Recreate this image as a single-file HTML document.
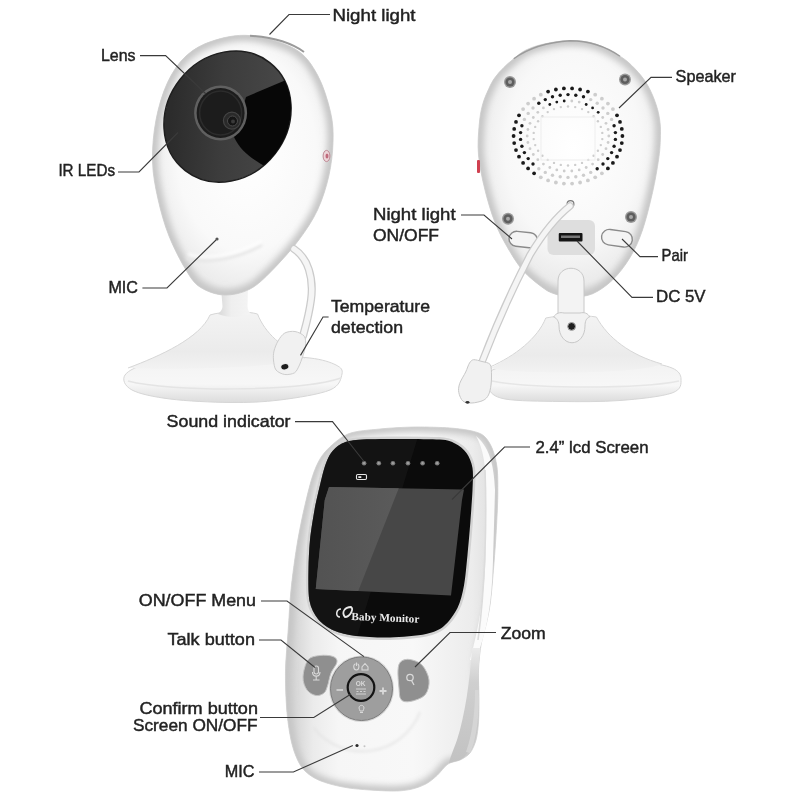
<!DOCTYPE html>
<html><head><meta charset="utf-8"><title>Baby Monitor</title>
<style>
html,body{margin:0;padding:0;background:#fff;width:800px;height:800px;overflow:hidden;}
svg{display:block;will-change:transform;}
.lb{font-family:"Liberation Sans",sans-serif;font-size:17px;fill:#222;stroke:#222;stroke-width:0.45px;}
.ln{fill:none;stroke:#3a3a3a;stroke-width:1.1;}
</style></head><body>
<svg width="800" height="800" viewBox="0 0 800 800">

<defs>
 <filter id="fb3" x="-20%" y="-20%" width="140%" height="140%"><feGaussianBlur stdDeviation="3"/></filter>
 <filter id="fb2" x="-20%" y="-20%" width="140%" height="140%"><feGaussianBlur stdDeviation="1.6"/></filter>
 <radialGradient id="gBodyL" cx="0.52" cy="0.45" r="0.62">
  <stop offset="0" stop-color="#ffffff"/>
  <stop offset="0.62" stop-color="#f9f9f9"/>
  <stop offset="0.85" stop-color="#ececec"/>
  <stop offset="1" stop-color="#cfcfcf"/>
 </radialGradient>
 <radialGradient id="gBodyR" cx="0.52" cy="0.42" r="0.62">
  <stop offset="0" stop-color="#ffffff"/>
  <stop offset="0.6" stop-color="#f8f8f8"/>
  <stop offset="0.85" stop-color="#ebebeb"/>
  <stop offset="1" stop-color="#cdcdcd"/>
 </radialGradient>
 <linearGradient id="gBase" x1="0" y1="0" x2="0" y2="1">
  <stop offset="0" stop-color="#f3f3f3"/>
  <stop offset="0.7" stop-color="#ebebeb"/>
  <stop offset="1" stop-color="#f2f2f2"/>
 </linearGradient>
 <linearGradient id="gPlate" x1="0" y1="0" x2="0" y2="1">
  <stop offset="0" stop-color="#f2f2f2"/>
  <stop offset="0.6" stop-color="#f7f7f7"/>
  <stop offset="1" stop-color="#dcdcdc"/>
 </linearGradient>
 <linearGradient id="gFace" x1="0.75" y1="0.1" x2="0.05" y2="0.65">
  <stop offset="0" stop-color="#484848"/>
  <stop offset="0.55" stop-color="#3c3c3c"/>
  <stop offset="1" stop-color="#2c2c2c"/>
 </linearGradient>
 <linearGradient id="gScreen" x1="0" y1="0" x2="1" y2="1">
  <stop offset="0" stop-color="#4a4a4a"/>
  <stop offset="0.35" stop-color="#4f4f4f"/>
  <stop offset="0.36" stop-color="#444"/>
  <stop offset="1" stop-color="#3a3a3a"/>
 </linearGradient>
 <linearGradient id="gMon" x1="0" y1="0" x2="1" y2="0">
  <stop offset="0" stop-color="#cbcbcb"/>
  <stop offset="0.06" stop-color="#dadada"/>
  <stop offset="0.13" stop-color="#ebebeb"/>
  <stop offset="0.25" stop-color="#f6f6f6"/>
  <stop offset="0.6" stop-color="#f8f8f8"/>
  <stop offset="0.88" stop-color="#ececec"/>
  <stop offset="1" stop-color="#dcdcdc"/>
 </linearGradient>
 <linearGradient id="gNeck" x1="0" y1="0" x2="1" y2="0">
  <stop offset="0" stop-color="#d8d8d8"/>
  <stop offset="0.4" stop-color="#efefef"/>
  <stop offset="1" stop-color="#f4f4f4"/>
 </linearGradient>
 <linearGradient id="gClip" x1="0" y1="0" x2="0" y2="1">
  <stop offset="0" stop-color="#ebebeb"/>
  <stop offset="0.3" stop-color="#cfcfcf"/>
  <stop offset="1" stop-color="#c2c2c2"/>
 </linearGradient>
 <linearGradient id="gRefl" x1="0" y1="0" x2="1" y2="0">
  <stop offset="0" stop-color="#515151"/>
  <stop offset="1" stop-color="#5b5b5b"/>
 </linearGradient>
</defs>

<path d="M125.0,375.0 C128.0,370.5 137.5,366.0 150.0,363.0 C162.5,360.0 181.7,358.2 200.0,357.0 C218.3,355.8 241.7,355.8 260.0,356.0 C278.3,356.2 297.3,356.5 310.0,358.0 C322.7,359.5 330.7,362.3 336.0,365.0 C341.3,367.7 343.0,369.8 342.0,374.0 C341.0,378.2 340.3,385.7 330.0,390.0 C319.7,394.3 296.7,397.9 280.0,400.0 C263.3,402.1 248.3,402.7 230.0,402.5 C211.7,402.3 186.3,401.1 170.0,399.0 C153.7,396.9 139.5,394.0 132.0,390.0 C124.5,386.0 122.0,379.5 125.0,375.0 Z" fill="url(#gPlate)" stroke="#d6d6d6" stroke-width="1"/>
<path d="M128,381 C170,392 300,392 341,378" fill="none" stroke="#e4e4e4" stroke-width="1.5"/>
<path d="M210,315 C222,311 248,311 257.5,314 C265,333 282,348 305,358 C280,368 180,370 128,368 C160,356 200,338 210,315 Z" fill="url(#gBase)"/>
<path d="M128,368 C160,356 200,338 210,315 C222,311 248,311 257.5,314 C265,333 282,348 305,358" fill="none" stroke="#d6d6d6" stroke-width="1"/>
<path d="M221,288 L248,288 L247.5,306 C247.5,310 249,312 251,314 C240,318 228,318 218,314 C220,312 222.5,310 222.5,306 Z" fill="url(#gNeck)"/>
<path d="M250.0,35.6 C263.8,36.9 283.8,42.4 295.0,49.0 C306.2,55.6 311.6,64.4 317.5,75.0 C323.4,85.6 328.0,101.2 330.6,112.5 C333.2,123.8 333.3,131.9 333.0,142.5 C332.7,153.1 331.3,164.8 328.8,176.0 C326.2,187.2 322.5,199.3 317.5,210.0 C312.5,220.7 306.2,230.0 298.8,240.0 C291.2,250.0 280.6,261.8 272.5,270.0 C264.4,278.2 258.1,284.8 250.0,289.0 C241.9,293.2 232.3,295.3 224.0,295.0 C215.7,294.7 206.3,291.2 200.0,287.0 C193.7,282.8 191.2,278.5 186.0,270.0 C180.8,261.5 173.7,247.8 169.0,236.0 C164.3,224.2 160.8,211.5 158.0,199.0 C155.2,186.5 152.8,174.2 152.5,161.0 C152.2,147.8 153.5,133.1 156.0,120.0 C158.5,106.9 162.5,93.2 167.5,82.5 C172.5,71.8 178.5,62.9 186.0,56.0 C193.5,49.1 201.8,44.4 212.5,41.0 C223.2,37.6 236.2,34.3 250.0,35.6 Z" fill="url(#gBodyL)"/>
<clipPath id="cBL"><path d="M250.0,35.6 C263.8,36.9 283.8,42.4 295.0,49.0 C306.2,55.6 311.6,64.4 317.5,75.0 C323.4,85.6 328.0,101.2 330.6,112.5 C333.2,123.8 333.3,131.9 333.0,142.5 C332.7,153.1 331.3,164.8 328.8,176.0 C326.2,187.2 322.5,199.3 317.5,210.0 C312.5,220.7 306.2,230.0 298.8,240.0 C291.2,250.0 280.6,261.8 272.5,270.0 C264.4,278.2 258.1,284.8 250.0,289.0 C241.9,293.2 232.3,295.3 224.0,295.0 C215.7,294.7 206.3,291.2 200.0,287.0 C193.7,282.8 191.2,278.5 186.0,270.0 C180.8,261.5 173.7,247.8 169.0,236.0 C164.3,224.2 160.8,211.5 158.0,199.0 C155.2,186.5 152.8,174.2 152.5,161.0 C152.2,147.8 153.5,133.1 156.0,120.0 C158.5,106.9 162.5,93.2 167.5,82.5 C172.5,71.8 178.5,62.9 186.0,56.0 C193.5,49.1 201.8,44.4 212.5,41.0 C223.2,37.6 236.2,34.3 250.0,35.6 Z"/></clipPath>
<g clip-path="url(#cBL)"><path d="M250.0,35.6 C263.8,36.9 283.8,42.4 295.0,49.0 C306.2,55.6 311.6,64.4 317.5,75.0 C323.4,85.6 328.0,101.2 330.6,112.5 C333.2,123.8 333.3,131.9 333.0,142.5 C332.7,153.1 331.3,164.8 328.8,176.0 C326.2,187.2 322.5,199.3 317.5,210.0 C312.5,220.7 306.2,230.0 298.8,240.0 C291.2,250.0 280.6,261.8 272.5,270.0 C264.4,278.2 258.1,284.8 250.0,289.0 C241.9,293.2 232.3,295.3 224.0,295.0 C215.7,294.7 206.3,291.2 200.0,287.0 C193.7,282.8 191.2,278.5 186.0,270.0 C180.8,261.5 173.7,247.8 169.0,236.0 C164.3,224.2 160.8,211.5 158.0,199.0 C155.2,186.5 152.8,174.2 152.5,161.0 C152.2,147.8 153.5,133.1 156.0,120.0 C158.5,106.9 162.5,93.2 167.5,82.5 C172.5,71.8 178.5,62.9 186.0,56.0 C193.5,49.1 201.8,44.4 212.5,41.0 C223.2,37.6 236.2,34.3 250.0,35.6 Z" fill="none" stroke="#c6c6c6" stroke-width="11" filter="url(#fb3)"/></g>
<path d="M250.0,35.6 C263.8,36.9 283.8,42.4 295.0,49.0 C306.2,55.6 311.6,64.4 317.5,75.0 C323.4,85.6 328.0,101.2 330.6,112.5 C333.2,123.8 333.3,131.9 333.0,142.5 C332.7,153.1 331.3,164.8 328.8,176.0 C326.2,187.2 322.5,199.3 317.5,210.0 C312.5,220.7 306.2,230.0 298.8,240.0 C291.2,250.0 280.6,261.8 272.5,270.0 C264.4,278.2 258.1,284.8 250.0,289.0 C241.9,293.2 232.3,295.3 224.0,295.0 C215.7,294.7 206.3,291.2 200.0,287.0 C193.7,282.8 191.2,278.5 186.0,270.0 C180.8,261.5 173.7,247.8 169.0,236.0 C164.3,224.2 160.8,211.5 158.0,199.0 C155.2,186.5 152.8,174.2 152.5,161.0 C152.2,147.8 153.5,133.1 156.0,120.0 C158.5,106.9 162.5,93.2 167.5,82.5 C172.5,71.8 178.5,62.9 186.0,56.0 C193.5,49.1 201.8,44.4 212.5,41.0 C223.2,37.6 236.2,34.3 250.0,35.6 Z" fill="none" stroke="#cdcdcd" stroke-width="0.8"/>
<path d="M250,35.8 C270,37 290,42 304,52" fill="none" stroke="#9a9a9a" stroke-width="2"/>
<ellipse cx="227.5" cy="116.6" rx="60.3" ry="68.6" transform="rotate(38 227.5 116.6)" fill="url(#gFace)" stroke="#1e1e1e" stroke-width="1.5"/>
<clipPath id="cFace"><ellipse cx="227.5" cy="116.6" rx="60.3" ry="68.6" transform="rotate(38 227.5 116.6)"/></clipPath>
<path clip-path="url(#cFace)" d="M300,74 L246,97 L234,137 C240,150 250,158 268,168 L300,170 Z" fill="#070707"/>
<ellipse cx="220.6" cy="113" rx="26.5" ry="27.5" fill="#606060"/>
<ellipse cx="220.6" cy="113" rx="24" ry="25" fill="#1c1c1c"/>
<ellipse cx="220.6" cy="113" rx="21" ry="22" fill="none" stroke="#2c2c2c" stroke-width="1.5"/>
<circle cx="231.9" cy="120.6" r="8.5" fill="#2a2a2a" stroke="#444" stroke-width="1.2"/>
<circle cx="232.5" cy="121" r="5" fill="#151515" stroke="#4a4a4a" stroke-width="1"/>
<circle cx="233" cy="121.5" r="2" fill="#3a3a3a"/>
<ellipse cx="326.5" cy="156" rx="3.4" ry="5.6" fill="#ecd4d8" stroke="#c08a96" stroke-width="1"/><ellipse cx="327" cy="156" rx="1.5" ry="2.6" fill="#c06a7c"/>
<circle cx="217" cy="239" r="1.6" fill="#555"/>
<path d="M186,258 C205,264 235,260 262,245" fill="none" stroke="#e6e6e6" stroke-width="3" filter="url(#fb2)"/>
<path d="M188,254 C205,260 235,256 262,241" fill="none" stroke="#ffffff" stroke-width="2" filter="url(#fb2)"/>
<path d="M294,249 C308,258 314,278 311,300 C309,315 306,325 303,336" fill="none" stroke="#cbcbcb" stroke-width="8" stroke-linecap="round"/>
<path d="M294,249 C308,258 314,278 311,300 C309,315 306,325 303,336" fill="none" stroke="#f5f5f5" stroke-width="5.5" stroke-linecap="round"/>
<path d="M284.8,333.0 C287.4,331.6 292.1,331.0 295.0,331.5 C297.9,332.0 302.7,334.1 304.3,336.3 C305.9,338.5 305.8,343.0 305.5,346.0 C305.2,349.0 303.6,353.6 302.6,356.6 C301.6,359.6 300.2,363.6 299.0,366.0 C297.8,368.4 296.6,371.5 294.5,372.8 C292.4,374.1 287.6,374.9 284.8,374.5 C282.0,374.1 277.7,372.2 276.0,370.0 C274.3,367.8 273.8,362.9 273.5,360.0 C273.2,357.1 273.3,353.9 274.0,351.0 C274.7,348.1 276.4,343.7 278.0,341.0 C279.6,338.3 282.2,334.4 284.8,333.0 Z" fill="#f1f1f1" stroke="#cdcdcd" stroke-width="1"/>
<ellipse cx="284.8" cy="366.7" rx="4.6" ry="3.6" fill="#e6e6e6" transform="rotate(-12 284.8 366.7)"/>
<ellipse cx="284.8" cy="366.7" rx="3.6" ry="2.6" fill="#1c1c1c" transform="rotate(-12 284.8 366.7)"/>
<path d="M489.0,372.0 C494.3,368.0 504.8,365.8 520.0,364.0 C535.2,362.2 560.0,361.3 580.0,361.0 C600.0,360.7 624.7,360.8 640.0,362.0 C655.3,363.2 665.2,365.2 672.0,368.0 C678.8,370.8 681.0,374.8 681.0,379.0 C681.0,383.2 682.2,389.4 672.0,393.0 C661.8,396.6 638.7,399.1 620.0,400.5 C601.3,401.9 579.2,401.8 560.0,401.5 C540.8,401.2 517.0,401.2 505.0,399.0 C493.0,396.8 490.7,392.5 488.0,388.0 C485.3,383.5 483.7,376.0 489.0,372.0 Z" fill="url(#gPlate)" stroke="#d6d6d6" stroke-width="1"/>
<path d="M492,381 C530,389 640,389 679,381" fill="none" stroke="#e6e6e6" stroke-width="1.5"/>
<path d="M545.75,318 C560,315 585,315 596.4,317 C608,338 630,355 662,364 C640,374 520,375 490,368 C515,356 538,338 545.75,318 Z" fill="url(#gBase)"/>
<path d="M490,367 C515,356 538,338 545.75,318 C560,315 585,315 596.4,317 C608,338 630,355 662,364" fill="none" stroke="#d6d6d6" stroke-width="1"/>
<path d="M570.0,40.6 C578.3,40.6 586.7,41.1 595.0,43.8 C603.3,46.4 613.3,52.1 620.0,56.2 C626.7,60.4 630.4,64.0 635.0,68.8 C639.6,73.5 644.0,79.0 647.5,85.0 C651.0,91.0 654.2,98.8 656.2,105.0 C658.3,111.2 659.3,116.7 660.0,122.5 C660.7,128.3 660.5,133.9 660.3,140.0 C660.1,146.1 659.9,150.5 658.6,159.2 C657.3,168.0 655.2,180.7 652.5,192.5 C649.8,204.3 646.2,219.2 642.5,230.0 C638.8,240.8 635.0,249.2 630.0,257.5 C625.0,265.8 618.8,274.0 612.5,280.0 C606.2,286.0 599.2,290.9 592.5,293.8 C585.8,296.6 578.2,297.0 572.0,297.0 C565.8,297.0 559.9,295.6 555.0,294.0 C550.1,292.4 547.9,291.5 542.5,287.5 C537.1,283.5 528.3,276.7 522.5,270.0 C516.7,263.3 512.1,255.4 507.5,247.5 C502.9,239.6 498.8,232.1 495.0,222.5 C491.2,212.9 487.8,201.2 485.0,190.0 C482.2,178.8 479.5,165.8 478.5,155.0 C477.5,144.2 478.5,133.3 479.2,125.0 C479.9,116.7 480.9,111.0 482.5,105.0 C484.1,99.0 486.7,93.3 488.8,88.8 C490.8,84.2 492.5,81.0 495.0,77.5 C497.5,74.0 500.6,70.6 503.8,67.5 C506.9,64.4 510.0,61.7 513.8,58.8 C517.5,55.8 520.8,52.5 526.0,50.0 C531.2,47.5 537.7,45.3 545.0,43.8 C552.3,42.2 561.7,40.6 570.0,40.6 Z" fill="url(#gBodyR)"/>
<clipPath id="cBR"><path d="M570.0,40.6 C578.3,40.6 586.7,41.1 595.0,43.8 C603.3,46.4 613.3,52.1 620.0,56.2 C626.7,60.4 630.4,64.0 635.0,68.8 C639.6,73.5 644.0,79.0 647.5,85.0 C651.0,91.0 654.2,98.8 656.2,105.0 C658.3,111.2 659.3,116.7 660.0,122.5 C660.7,128.3 660.5,133.9 660.3,140.0 C660.1,146.1 659.9,150.5 658.6,159.2 C657.3,168.0 655.2,180.7 652.5,192.5 C649.8,204.3 646.2,219.2 642.5,230.0 C638.8,240.8 635.0,249.2 630.0,257.5 C625.0,265.8 618.8,274.0 612.5,280.0 C606.2,286.0 599.2,290.9 592.5,293.8 C585.8,296.6 578.2,297.0 572.0,297.0 C565.8,297.0 559.9,295.6 555.0,294.0 C550.1,292.4 547.9,291.5 542.5,287.5 C537.1,283.5 528.3,276.7 522.5,270.0 C516.7,263.3 512.1,255.4 507.5,247.5 C502.9,239.6 498.8,232.1 495.0,222.5 C491.2,212.9 487.8,201.2 485.0,190.0 C482.2,178.8 479.5,165.8 478.5,155.0 C477.5,144.2 478.5,133.3 479.2,125.0 C479.9,116.7 480.9,111.0 482.5,105.0 C484.1,99.0 486.7,93.3 488.8,88.8 C490.8,84.2 492.5,81.0 495.0,77.5 C497.5,74.0 500.6,70.6 503.8,67.5 C506.9,64.4 510.0,61.7 513.8,58.8 C517.5,55.8 520.8,52.5 526.0,50.0 C531.2,47.5 537.7,45.3 545.0,43.8 C552.3,42.2 561.7,40.6 570.0,40.6 Z"/></clipPath>
<g clip-path="url(#cBR)"><path d="M570.0,40.6 C578.3,40.6 586.7,41.1 595.0,43.8 C603.3,46.4 613.3,52.1 620.0,56.2 C626.7,60.4 630.4,64.0 635.0,68.8 C639.6,73.5 644.0,79.0 647.5,85.0 C651.0,91.0 654.2,98.8 656.2,105.0 C658.3,111.2 659.3,116.7 660.0,122.5 C660.7,128.3 660.5,133.9 660.3,140.0 C660.1,146.1 659.9,150.5 658.6,159.2 C657.3,168.0 655.2,180.7 652.5,192.5 C649.8,204.3 646.2,219.2 642.5,230.0 C638.8,240.8 635.0,249.2 630.0,257.5 C625.0,265.8 618.8,274.0 612.5,280.0 C606.2,286.0 599.2,290.9 592.5,293.8 C585.8,296.6 578.2,297.0 572.0,297.0 C565.8,297.0 559.9,295.6 555.0,294.0 C550.1,292.4 547.9,291.5 542.5,287.5 C537.1,283.5 528.3,276.7 522.5,270.0 C516.7,263.3 512.1,255.4 507.5,247.5 C502.9,239.6 498.8,232.1 495.0,222.5 C491.2,212.9 487.8,201.2 485.0,190.0 C482.2,178.8 479.5,165.8 478.5,155.0 C477.5,144.2 478.5,133.3 479.2,125.0 C479.9,116.7 480.9,111.0 482.5,105.0 C484.1,99.0 486.7,93.3 488.8,88.8 C490.8,84.2 492.5,81.0 495.0,77.5 C497.5,74.0 500.6,70.6 503.8,67.5 C506.9,64.4 510.0,61.7 513.8,58.8 C517.5,55.8 520.8,52.5 526.0,50.0 C531.2,47.5 537.7,45.3 545.0,43.8 C552.3,42.2 561.7,40.6 570.0,40.6 Z" fill="none" stroke="#c6c6c6" stroke-width="11" filter="url(#fb3)"/></g>
<path d="M570.0,40.6 C578.3,40.6 586.7,41.1 595.0,43.8 C603.3,46.4 613.3,52.1 620.0,56.2 C626.7,60.4 630.4,64.0 635.0,68.8 C639.6,73.5 644.0,79.0 647.5,85.0 C651.0,91.0 654.2,98.8 656.2,105.0 C658.3,111.2 659.3,116.7 660.0,122.5 C660.7,128.3 660.5,133.9 660.3,140.0 C660.1,146.1 659.9,150.5 658.6,159.2 C657.3,168.0 655.2,180.7 652.5,192.5 C649.8,204.3 646.2,219.2 642.5,230.0 C638.8,240.8 635.0,249.2 630.0,257.5 C625.0,265.8 618.8,274.0 612.5,280.0 C606.2,286.0 599.2,290.9 592.5,293.8 C585.8,296.6 578.2,297.0 572.0,297.0 C565.8,297.0 559.9,295.6 555.0,294.0 C550.1,292.4 547.9,291.5 542.5,287.5 C537.1,283.5 528.3,276.7 522.5,270.0 C516.7,263.3 512.1,255.4 507.5,247.5 C502.9,239.6 498.8,232.1 495.0,222.5 C491.2,212.9 487.8,201.2 485.0,190.0 C482.2,178.8 479.5,165.8 478.5,155.0 C477.5,144.2 478.5,133.3 479.2,125.0 C479.9,116.7 480.9,111.0 482.5,105.0 C484.1,99.0 486.7,93.3 488.8,88.8 C490.8,84.2 492.5,81.0 495.0,77.5 C497.5,74.0 500.6,70.6 503.8,67.5 C506.9,64.4 510.0,61.7 513.8,58.8 C517.5,55.8 520.8,52.5 526.0,50.0 C531.2,47.5 537.7,45.3 545.0,43.8 C552.3,42.2 561.7,40.6 570.0,40.6 Z" fill="none" stroke="#cdcdcd" stroke-width="0.8"/>
<path d="M513.75,58.75 C530,47 550,42 570,40.8 C590,41 608,48 620,56.25" fill="none" stroke="#9c9c9c" stroke-width="1.5"/>
<path d="M558,316 L558,281 C558,264 584,264 584,281 L584,316 Z" fill="#f3f3f3" stroke="#c8c8c8" stroke-width="1"/>
<path d="M553.6,317 C556,313 560,312 564,313 L580,313 C584,312 588,313 589.6,317 C586,318 585,322 585,326 C585,336 579,342.75 572,342.75 C565,342.75 559,336 559,326 C559,322 557,318 553.6,317 Z" fill="#f2f2f2" stroke="#c8c8c8" stroke-width="1"/>
<circle cx="571.6" cy="326.4" r="3.9" fill="#1e1e1e" stroke="#a8a8a8" stroke-width="1"/>
<rect x="477" y="160" width="3" height="13" rx="1" fill="#d04050"/>
<circle cx="510" cy="82" r="6" fill="#9a9a9a"/><circle cx="510" cy="82" r="4.6" fill="#5e5e5e"/><circle cx="510" cy="82" r="2" fill="#a8a8a8"/>
<circle cx="625" cy="79.5" r="6" fill="#9a9a9a"/><circle cx="625" cy="79.5" r="4.6" fill="#5e5e5e"/><circle cx="625" cy="79.5" r="2" fill="#a8a8a8"/>
<circle cx="508" cy="218.75" r="6" fill="#9a9a9a"/><circle cx="508" cy="218.75" r="4.6" fill="#5e5e5e"/><circle cx="508" cy="218.75" r="2" fill="#a8a8a8"/>
<circle cx="631" cy="217" r="6" fill="#9a9a9a"/><circle cx="631" cy="217" r="4.6" fill="#5e5e5e"/><circle cx="631" cy="217" r="2" fill="#a8a8a8"/>
<circle cx="622.4" cy="136.0" r="1.9" fill="#1a1a1a"/>
<circle cx="621.8" cy="143.1" r="1.9" fill="#1a1a1a"/>
<circle cx="620.0" cy="150.1" r="1.9" fill="#1a1a1a"/>
<circle cx="617.0" cy="156.7" r="1.9" fill="#1a1a1a"/>
<circle cx="612.9" cy="162.9" r="1.9" fill="#1a1a1a"/>
<circle cx="607.9" cy="168.4" r="1.9" fill="#1a1a1a"/>
<circle cx="601.9" cy="173.3" r="1.9" fill="#cdcdcd"/>
<circle cx="595.2" cy="177.3" r="1.9" fill="#cdcdcd"/>
<circle cx="587.9" cy="180.4" r="1.9" fill="#cdcdcd"/>
<circle cx="580.1" cy="182.5" r="1.9" fill="#cdcdcd"/>
<circle cx="572.1" cy="183.6" r="1.9" fill="#cdcdcd"/>
<circle cx="563.9" cy="183.6" r="1.9" fill="#cdcdcd"/>
<circle cx="555.9" cy="182.5" r="1.9" fill="#cdcdcd"/>
<circle cx="548.1" cy="180.4" r="1.9" fill="#cdcdcd"/>
<circle cx="540.8" cy="177.3" r="1.9" fill="#cdcdcd"/>
<circle cx="534.1" cy="173.3" r="1.9" fill="#1a1a1a"/>
<circle cx="528.1" cy="168.4" r="1.9" fill="#1a1a1a"/>
<circle cx="523.1" cy="162.9" r="1.9" fill="#1a1a1a"/>
<circle cx="519.0" cy="156.7" r="1.9" fill="#1a1a1a"/>
<circle cx="516.0" cy="150.1" r="1.9" fill="#1a1a1a"/>
<circle cx="514.2" cy="143.1" r="1.9" fill="#1a1a1a"/>
<circle cx="513.6" cy="136.0" r="1.9" fill="#1a1a1a"/>
<circle cx="514.2" cy="128.9" r="1.9" fill="#1a1a1a"/>
<circle cx="516.0" cy="121.9" r="1.9" fill="#1a1a1a"/>
<circle cx="519.0" cy="115.3" r="1.9" fill="#1a1a1a"/>
<circle cx="523.1" cy="109.1" r="1.9" fill="#cdcdcd"/>
<circle cx="528.1" cy="103.6" r="1.9" fill="#cdcdcd"/>
<circle cx="534.1" cy="98.7" r="1.9" fill="#cdcdcd"/>
<circle cx="540.8" cy="94.7" r="1.9" fill="#cdcdcd"/>
<circle cx="548.1" cy="91.6" r="1.9" fill="#1a1a1a"/>
<circle cx="555.9" cy="89.5" r="1.9" fill="#1a1a1a"/>
<circle cx="563.9" cy="88.4" r="1.9" fill="#1a1a1a"/>
<circle cx="572.1" cy="88.4" r="1.9" fill="#1a1a1a"/>
<circle cx="580.1" cy="89.5" r="1.9" fill="#1a1a1a"/>
<circle cx="587.9" cy="91.6" r="1.9" fill="#1a1a1a"/>
<circle cx="595.2" cy="94.7" r="1.9" fill="#cdcdcd"/>
<circle cx="601.9" cy="98.7" r="1.9" fill="#cdcdcd"/>
<circle cx="607.9" cy="103.6" r="1.9" fill="#cdcdcd"/>
<circle cx="612.9" cy="109.1" r="1.9" fill="#cdcdcd"/>
<circle cx="617.0" cy="115.3" r="1.9" fill="#1a1a1a"/>
<circle cx="620.0" cy="121.9" r="1.9" fill="#1a1a1a"/>
<circle cx="621.8" cy="128.9" r="1.9" fill="#1a1a1a"/>
<circle cx="615.4" cy="139.4" r="1.7" fill="#1a1a1a"/>
<circle cx="614.1" cy="146.2" r="1.7" fill="#1a1a1a"/>
<circle cx="611.6" cy="152.6" r="1.7" fill="#1a1a1a"/>
<circle cx="607.8" cy="158.6" r="1.7" fill="#1a1a1a"/>
<circle cx="603.0" cy="164.0" r="1.7" fill="#1a1a1a"/>
<circle cx="597.2" cy="168.7" r="1.7" fill="#1a1a1a"/>
<circle cx="590.7" cy="172.4" r="1.7" fill="#cdcdcd"/>
<circle cx="583.5" cy="175.2" r="1.7" fill="#cdcdcd"/>
<circle cx="575.8" cy="176.8" r="1.7" fill="#cdcdcd"/>
<circle cx="568.0" cy="177.4" r="1.7" fill="#cdcdcd"/>
<circle cx="560.2" cy="176.8" r="1.7" fill="#cdcdcd"/>
<circle cx="552.5" cy="175.2" r="1.7" fill="#cdcdcd"/>
<circle cx="545.3" cy="172.4" r="1.7" fill="#cdcdcd"/>
<circle cx="538.8" cy="168.7" r="1.7" fill="#cdcdcd"/>
<circle cx="533.0" cy="164.0" r="1.7" fill="#1a1a1a"/>
<circle cx="528.2" cy="158.6" r="1.7" fill="#1a1a1a"/>
<circle cx="524.4" cy="152.6" r="1.7" fill="#1a1a1a"/>
<circle cx="521.9" cy="146.2" r="1.7" fill="#1a1a1a"/>
<circle cx="520.6" cy="139.4" r="1.7" fill="#1a1a1a"/>
<circle cx="520.6" cy="132.6" r="1.7" fill="#1a1a1a"/>
<circle cx="521.9" cy="125.8" r="1.7" fill="#1a1a1a"/>
<circle cx="524.4" cy="119.4" r="1.7" fill="#cdcdcd"/>
<circle cx="528.2" cy="113.4" r="1.7" fill="#cdcdcd"/>
<circle cx="533.0" cy="108.0" r="1.7" fill="#cdcdcd"/>
<circle cx="538.8" cy="103.3" r="1.7" fill="#1a1a1a"/>
<circle cx="545.3" cy="99.6" r="1.7" fill="#1a1a1a"/>
<circle cx="552.5" cy="96.8" r="1.7" fill="#1a1a1a"/>
<circle cx="560.2" cy="95.2" r="1.7" fill="#1a1a1a"/>
<circle cx="568.0" cy="94.6" r="1.7" fill="#1a1a1a"/>
<circle cx="575.8" cy="95.2" r="1.7" fill="#1a1a1a"/>
<circle cx="583.5" cy="96.8" r="1.7" fill="#1a1a1a"/>
<circle cx="590.7" cy="99.6" r="1.7" fill="#cdcdcd"/>
<circle cx="597.2" cy="103.3" r="1.7" fill="#cdcdcd"/>
<circle cx="603.0" cy="108.0" r="1.7" fill="#cdcdcd"/>
<circle cx="607.8" cy="113.4" r="1.7" fill="#cdcdcd"/>
<circle cx="611.6" cy="119.4" r="1.7" fill="#cdcdcd"/>
<circle cx="614.1" cy="125.8" r="1.7" fill="#1a1a1a"/>
<circle cx="615.4" cy="132.6" r="1.7" fill="#1a1a1a"/>
<circle cx="608.1" cy="142.5" r="1.4" fill="#cdcdcd"/>
<circle cx="606.0" cy="148.7" r="1.4" fill="#cdcdcd"/>
<circle cx="602.7" cy="154.5" r="1.4" fill="#cdcdcd"/>
<circle cx="598.2" cy="159.7" r="1.4" fill="#cdcdcd"/>
<circle cx="592.6" cy="164.1" r="1.4" fill="#cdcdcd"/>
<circle cx="586.2" cy="167.5" r="1.4" fill="#cdcdcd"/>
<circle cx="579.2" cy="169.9" r="1.4" fill="#cdcdcd"/>
<circle cx="571.8" cy="171.0" r="1.4" fill="#cdcdcd"/>
<circle cx="564.2" cy="171.0" r="1.4" fill="#cdcdcd"/>
<circle cx="556.8" cy="169.9" r="1.4" fill="#cdcdcd"/>
<circle cx="549.8" cy="167.5" r="1.4" fill="#cdcdcd"/>
<circle cx="543.4" cy="164.1" r="1.4" fill="#cdcdcd"/>
<circle cx="537.8" cy="159.7" r="1.4" fill="#cdcdcd"/>
<circle cx="533.3" cy="154.5" r="1.4" fill="#cdcdcd"/>
<circle cx="530.0" cy="148.7" r="1.4" fill="#cdcdcd"/>
<circle cx="527.9" cy="142.5" r="1.4" fill="#cdcdcd"/>
<circle cx="527.2" cy="136.0" r="1.4" fill="#cdcdcd"/>
<circle cx="527.9" cy="129.5" r="1.4" fill="#cdcdcd"/>
<circle cx="530.0" cy="123.3" r="1.4" fill="#cdcdcd"/>
<circle cx="533.3" cy="117.5" r="1.4" fill="#cdcdcd"/>
<circle cx="537.8" cy="112.3" r="1.4" fill="#cdcdcd"/>
<circle cx="543.4" cy="107.9" r="1.4" fill="#cdcdcd"/>
<circle cx="549.8" cy="104.5" r="1.4" fill="#1a1a1a"/>
<circle cx="556.8" cy="102.1" r="1.4" fill="#1a1a1a"/>
<circle cx="564.2" cy="101.0" r="1.4" fill="#1a1a1a"/>
<circle cx="571.8" cy="101.0" r="1.4" fill="#cdcdcd"/>
<circle cx="579.2" cy="102.1" r="1.4" fill="#cdcdcd"/>
<circle cx="586.2" cy="104.5" r="1.4" fill="#1a1a1a"/>
<circle cx="592.6" cy="107.9" r="1.4" fill="#1a1a1a"/>
<circle cx="598.2" cy="112.3" r="1.4" fill="#1a1a1a"/>
<circle cx="602.7" cy="117.5" r="1.4" fill="#cdcdcd"/>
<circle cx="606.0" cy="123.3" r="1.4" fill="#cdcdcd"/>
<circle cx="608.1" cy="129.5" r="1.4" fill="#cdcdcd"/>
<circle cx="608.8" cy="136.0" r="1.4" fill="#cdcdcd"/>
<circle cx="600.8" cy="145.1" r="1.2" fill="#cdcdcd"/>
<circle cx="597.9" cy="150.8" r="1.2" fill="#cdcdcd"/>
<circle cx="593.6" cy="155.7" r="1.2" fill="#cdcdcd"/>
<circle cx="588.3" cy="159.9" r="1.2" fill="#cdcdcd"/>
<circle cx="582.0" cy="162.9" r="1.2" fill="#cdcdcd"/>
<circle cx="575.2" cy="164.9" r="1.2" fill="#cdcdcd"/>
<circle cx="568.0" cy="165.5" r="1.2" fill="#cdcdcd"/>
<circle cx="560.8" cy="164.9" r="1.2" fill="#cdcdcd"/>
<circle cx="554.0" cy="162.9" r="1.2" fill="#cdcdcd"/>
<circle cx="547.7" cy="159.9" r="1.2" fill="#cdcdcd"/>
<circle cx="542.4" cy="155.7" r="1.2" fill="#cdcdcd"/>
<circle cx="538.1" cy="150.8" r="1.2" fill="#cdcdcd"/>
<circle cx="535.2" cy="145.1" r="1.2" fill="#cdcdcd"/>
<circle cx="533.7" cy="139.1" r="1.2" fill="#cdcdcd"/>
<circle cx="533.7" cy="132.9" r="1.2" fill="#cdcdcd"/>
<circle cx="535.2" cy="126.9" r="1.2" fill="#cdcdcd"/>
<circle cx="538.1" cy="121.3" r="1.2" fill="#cdcdcd"/>
<circle cx="542.4" cy="116.3" r="1.2" fill="#cdcdcd"/>
<circle cx="547.7" cy="112.1" r="1.2" fill="#cdcdcd"/>
<circle cx="554.0" cy="109.1" r="1.2" fill="#cdcdcd"/>
<circle cx="560.8" cy="107.1" r="1.2" fill="#cdcdcd"/>
<circle cx="568.0" cy="106.5" r="1.2" fill="#cdcdcd"/>
<circle cx="575.2" cy="107.1" r="1.2" fill="#cdcdcd"/>
<circle cx="582.0" cy="109.1" r="1.2" fill="#cdcdcd"/>
<circle cx="588.3" cy="112.1" r="1.2" fill="#cdcdcd"/>
<circle cx="593.6" cy="116.3" r="1.2" fill="#cdcdcd"/>
<circle cx="597.9" cy="121.3" r="1.2" fill="#cdcdcd"/>
<circle cx="600.8" cy="126.9" r="1.2" fill="#cdcdcd"/>
<circle cx="602.3" cy="132.9" r="1.2" fill="#cdcdcd"/>
<circle cx="602.3" cy="139.1" r="1.2" fill="#cdcdcd"/>
<rect x="541" y="117" width="54" height="43" fill="none" stroke="#eeeeee" stroke-width="1"/>
<circle cx="570.5" cy="204" r="3.4" fill="#f2f2f2" stroke="#7a7a7a" stroke-width="1.2"/>
<rect x="547.5" y="220" width="47.5" height="35" rx="6" fill="#dedede"/>
<rect x="558.75" y="233" width="23.75" height="8.5" rx="1" fill="#151515"/>
<rect x="561" y="235.5" width="19" height="2.5" fill="#777"/>
<rect x="509" y="232" width="28.5" height="15" rx="7.5" fill="#f4f4f4" stroke="#8a8a8a" stroke-width="1.4" transform="rotate(6 523 239.5)"/>
<rect x="601.5" y="230.5" width="31" height="15.5" rx="7.75" fill="#f4f4f4" stroke="#8a8a8a" stroke-width="1.4" transform="rotate(8 617 238)"/>
<path d="M570,206 C560,214 545,230 530,255 C518,278 500,315 482,362" fill="none" stroke="#cbcbcb" stroke-width="7.5" stroke-linecap="round"/>
<path d="M570,206 C560,214 545,230 530,255 C518,278 500,315 482,362" fill="none" stroke="#f5f5f5" stroke-width="5" stroke-linecap="round"/>
<path d="M473.6,359.7 C475.5,359.5 479.5,360.8 482.0,361.5 C484.5,362.2 488.8,362.5 490.2,364.5 C491.6,366.5 491.4,371.9 491.5,375.0 C491.6,378.1 491.4,382.0 491.0,385.0 C490.6,388.0 489.7,392.7 488.5,395.0 C487.3,397.3 485.7,399.2 483.2,400.4 C480.8,401.6 475.0,402.9 472.0,403.0 C469.0,403.1 465.0,402.8 463.0,401.2 C461.0,399.7 459.3,395.1 458.8,392.5 C458.2,389.9 458.6,386.8 459.6,383.7 C460.6,380.6 464.2,375.1 465.7,372.0 C467.2,368.9 468.3,364.8 469.5,363.0 C470.7,361.2 471.7,359.9 473.6,359.7 Z" fill="#f1f1f1" stroke="#c8c8c8" stroke-width="1"/>
<ellipse cx="467.5" cy="402.3" rx="2" ry="1.4" fill="#333"/>
<path d="M348.0,434.0 C356.2,430.6 369.8,430.1 380.0,429.0 C390.2,427.9 405.5,427.1 416.0,427.0 C426.5,426.9 441.6,427.4 450.0,428.0 C458.4,428.6 466.9,429.8 472.0,431.0 C477.1,432.2 481.0,433.4 484.0,436.0 C487.0,438.6 490.1,443.4 492.0,448.0 C493.9,452.6 496.1,459.9 497.0,467.0 C497.9,474.1 497.9,484.8 497.8,495.0 C497.7,505.2 496.7,523.0 496.0,535.0 C495.3,547.0 493.9,564.5 493.0,575.0 C492.1,585.5 491.1,597.5 490.0,605.0 C488.9,612.5 487.4,619.0 486.0,625.0 C484.6,631.0 482.1,638.2 481.0,645.0 C479.9,651.8 478.8,661.8 478.5,670.0 C478.2,678.2 479.0,692.2 479.0,700.0 C479.0,707.8 478.9,716.0 478.5,722.0 C478.1,728.0 477.3,735.4 476.0,740.0 C474.7,744.6 472.4,750.0 470.0,753.0 C467.6,756.0 463.3,758.4 460.0,760.0 C456.7,761.6 451.4,761.7 448.0,764.0 C444.6,766.3 440.3,772.5 437.0,775.5 C433.7,778.5 429.8,781.9 425.8,784.0 C421.7,786.1 415.4,788.5 410.0,789.5 C404.6,790.5 399.2,791.2 390.0,791.0 C380.8,790.8 359.5,789.6 348.8,788.0 C338.0,786.4 325.5,783.1 318.5,780.0 C311.5,776.9 305.9,772.7 302.0,767.5 C298.1,762.3 294.6,753.8 292.4,745.5 C290.1,737.2 288.0,723.7 287.0,712.5 C286.0,701.3 285.3,683.4 285.5,671.0 C285.7,658.6 287.4,642.1 288.2,630.0 C289.1,617.9 289.7,602.8 291.0,590.0 C292.3,577.2 294.9,557.8 297.0,545.0 C299.1,532.2 302.4,516.0 305.0,505.0 C307.6,494.1 311.0,479.9 314.0,472.0 C317.0,464.1 319.9,457.7 325.0,452.0 C330.1,446.3 339.8,437.4 348.0,434.0 Z" fill="url(#gMon)"/>
<clipPath id="cMon"><path d="M348.0,434.0 C356.2,430.6 369.8,430.1 380.0,429.0 C390.2,427.9 405.5,427.1 416.0,427.0 C426.5,426.9 441.6,427.4 450.0,428.0 C458.4,428.6 466.9,429.8 472.0,431.0 C477.1,432.2 481.0,433.4 484.0,436.0 C487.0,438.6 490.1,443.4 492.0,448.0 C493.9,452.6 496.1,459.9 497.0,467.0 C497.9,474.1 497.9,484.8 497.8,495.0 C497.7,505.2 496.7,523.0 496.0,535.0 C495.3,547.0 493.9,564.5 493.0,575.0 C492.1,585.5 491.1,597.5 490.0,605.0 C488.9,612.5 487.4,619.0 486.0,625.0 C484.6,631.0 482.1,638.2 481.0,645.0 C479.9,651.8 478.8,661.8 478.5,670.0 C478.2,678.2 479.0,692.2 479.0,700.0 C479.0,707.8 478.9,716.0 478.5,722.0 C478.1,728.0 477.3,735.4 476.0,740.0 C474.7,744.6 472.4,750.0 470.0,753.0 C467.6,756.0 463.3,758.4 460.0,760.0 C456.7,761.6 451.4,761.7 448.0,764.0 C444.6,766.3 440.3,772.5 437.0,775.5 C433.7,778.5 429.8,781.9 425.8,784.0 C421.7,786.1 415.4,788.5 410.0,789.5 C404.6,790.5 399.2,791.2 390.0,791.0 C380.8,790.8 359.5,789.6 348.8,788.0 C338.0,786.4 325.5,783.1 318.5,780.0 C311.5,776.9 305.9,772.7 302.0,767.5 C298.1,762.3 294.6,753.8 292.4,745.5 C290.1,737.2 288.0,723.7 287.0,712.5 C286.0,701.3 285.3,683.4 285.5,671.0 C285.7,658.6 287.4,642.1 288.2,630.0 C289.1,617.9 289.7,602.8 291.0,590.0 C292.3,577.2 294.9,557.8 297.0,545.0 C299.1,532.2 302.4,516.0 305.0,505.0 C307.6,494.1 311.0,479.9 314.0,472.0 C317.0,464.1 319.9,457.7 325.0,452.0 C330.1,446.3 339.8,437.4 348.0,434.0 Z"/></clipPath>
<g clip-path="url(#cMon)"><path d="M348.0,434.0 C356.2,430.6 369.8,430.1 380.0,429.0 C390.2,427.9 405.5,427.1 416.0,427.0 C426.5,426.9 441.6,427.4 450.0,428.0 C458.4,428.6 466.9,429.8 472.0,431.0 C477.1,432.2 481.0,433.4 484.0,436.0 C487.0,438.6 490.1,443.4 492.0,448.0 C493.9,452.6 496.1,459.9 497.0,467.0 C497.9,474.1 497.9,484.8 497.8,495.0 C497.7,505.2 496.7,523.0 496.0,535.0 C495.3,547.0 493.9,564.5 493.0,575.0 C492.1,585.5 491.1,597.5 490.0,605.0 C488.9,612.5 487.4,619.0 486.0,625.0 C484.6,631.0 482.1,638.2 481.0,645.0 C479.9,651.8 478.8,661.8 478.5,670.0 C478.2,678.2 479.0,692.2 479.0,700.0 C479.0,707.8 478.9,716.0 478.5,722.0 C478.1,728.0 477.3,735.4 476.0,740.0 C474.7,744.6 472.4,750.0 470.0,753.0 C467.6,756.0 463.3,758.4 460.0,760.0 C456.7,761.6 451.4,761.7 448.0,764.0 C444.6,766.3 440.3,772.5 437.0,775.5 C433.7,778.5 429.8,781.9 425.8,784.0 C421.7,786.1 415.4,788.5 410.0,789.5 C404.6,790.5 399.2,791.2 390.0,791.0 C380.8,790.8 359.5,789.6 348.8,788.0 C338.0,786.4 325.5,783.1 318.5,780.0 C311.5,776.9 305.9,772.7 302.0,767.5 C298.1,762.3 294.6,753.8 292.4,745.5 C290.1,737.2 288.0,723.7 287.0,712.5 C286.0,701.3 285.3,683.4 285.5,671.0 C285.7,658.6 287.4,642.1 288.2,630.0 C289.1,617.9 289.7,602.8 291.0,590.0 C292.3,577.2 294.9,557.8 297.0,545.0 C299.1,532.2 302.4,516.0 305.0,505.0 C307.6,494.1 311.0,479.9 314.0,472.0 C317.0,464.1 319.9,457.7 325.0,452.0 C330.1,446.3 339.8,437.4 348.0,434.0 Z" fill="none" stroke="#c6c6c6" stroke-width="10" filter="url(#fb3)"/></g>
<path d="M348.0,434.0 C356.2,430.6 369.8,430.1 380.0,429.0 C390.2,427.9 405.5,427.1 416.0,427.0 C426.5,426.9 441.6,427.4 450.0,428.0 C458.4,428.6 466.9,429.8 472.0,431.0 C477.1,432.2 481.0,433.4 484.0,436.0 C487.0,438.6 490.1,443.4 492.0,448.0 C493.9,452.6 496.1,459.9 497.0,467.0 C497.9,474.1 497.9,484.8 497.8,495.0 C497.7,505.2 496.7,523.0 496.0,535.0 C495.3,547.0 493.9,564.5 493.0,575.0 C492.1,585.5 491.1,597.5 490.0,605.0 C488.9,612.5 487.4,619.0 486.0,625.0 C484.6,631.0 482.1,638.2 481.0,645.0 C479.9,651.8 478.8,661.8 478.5,670.0 C478.2,678.2 479.0,692.2 479.0,700.0 C479.0,707.8 478.9,716.0 478.5,722.0 C478.1,728.0 477.3,735.4 476.0,740.0 C474.7,744.6 472.4,750.0 470.0,753.0 C467.6,756.0 463.3,758.4 460.0,760.0 C456.7,761.6 451.4,761.7 448.0,764.0 C444.6,766.3 440.3,772.5 437.0,775.5 C433.7,778.5 429.8,781.9 425.8,784.0 C421.7,786.1 415.4,788.5 410.0,789.5 C404.6,790.5 399.2,791.2 390.0,791.0 C380.8,790.8 359.5,789.6 348.8,788.0 C338.0,786.4 325.5,783.1 318.5,780.0 C311.5,776.9 305.9,772.7 302.0,767.5 C298.1,762.3 294.6,753.8 292.4,745.5 C290.1,737.2 288.0,723.7 287.0,712.5 C286.0,701.3 285.3,683.4 285.5,671.0 C285.7,658.6 287.4,642.1 288.2,630.0 C289.1,617.9 289.7,602.8 291.0,590.0 C292.3,577.2 294.9,557.8 297.0,545.0 C299.1,532.2 302.4,516.0 305.0,505.0 C307.6,494.1 311.0,479.9 314.0,472.0 C317.0,464.1 319.9,457.7 325.0,452.0 C330.1,446.3 339.8,437.4 348.0,434.0 Z" fill="none" stroke="#d0d0d0" stroke-width="0.8"/>
<path d="M476,436 C488,446 494,462 495,490 L493,560 C492,600 488,625 480,648 L475,660 L470,660 C478,630 484,600 485.5,560 L486,490 C486,465 483,448 476,436 Z" fill="#fbfbfb"/>
<path d="M485,470 C487,520 485,590 478,640" fill="none" stroke="#dcdcdc" stroke-width="1.6"/>
<path d="M472,648 C470,680 465,715 457,740 C453,751 450,758 449,763 L460,760 C470,754 476,740 478,725 L479,700 L478.5,670 L480.5,648 Z" fill="url(#gClip)"/>
<path d="M475,690 C475,710 473,732 466,752 L470,753 C476,740 478,725 479,700 L478.5,690 Z" fill="#d8d8d8" opacity="0.8"/>
<path d="M313,727 A62,62 0 0 0 420,712" fill="none" stroke="#e2e2e2" stroke-width="1.6" filter="url(#fb2)"/>
<path d="M390.0,439.0 C402.5,438.9 429.8,438.9 439.5,439.6 C449.2,440.3 450.9,441.5 455.0,443.5 C459.1,445.5 463.9,449.3 466.5,453.0 C469.1,456.7 471.6,462.4 472.5,468.0 C473.4,473.6 472.8,482.2 472.5,490.0 C472.2,497.8 471.2,510.2 470.5,520.0 C469.8,529.8 468.5,545.2 467.5,555.0 C466.5,564.8 465.5,577.5 464.0,585.5 C462.5,593.5 460.5,601.9 457.5,608.0 C454.5,614.1 448.7,622.1 444.0,626.0 C439.3,629.9 434.1,632.3 426.0,634.0 C417.9,635.7 400.5,637.2 390.0,637.5 C379.5,637.8 364.4,637.0 356.0,636.0 C347.6,635.0 339.4,633.0 333.8,630.5 C328.1,628.0 321.6,623.4 318.0,619.0 C314.4,614.6 310.9,608.4 309.5,601.0 C308.1,593.6 308.4,579.1 308.5,570.0 C308.6,560.9 309.1,549.0 310.0,540.0 C310.9,531.0 313.0,518.2 314.5,510.0 C316.0,501.8 318.4,491.6 320.0,485.0 C321.6,478.4 323.4,470.8 325.0,466.0 C326.6,461.2 328.6,456.3 331.0,453.0 C333.4,449.7 337.2,445.9 341.0,444.0 C344.8,442.1 348.6,440.8 356.0,440.0 C363.4,439.2 377.5,439.1 390.0,439.0 Z" fill="none" stroke="#d2d2d2" stroke-width="5"/>
<path d="M390.0,439.0 C402.5,438.9 429.8,438.9 439.5,439.6 C449.2,440.3 450.9,441.5 455.0,443.5 C459.1,445.5 463.9,449.3 466.5,453.0 C469.1,456.7 471.6,462.4 472.5,468.0 C473.4,473.6 472.8,482.2 472.5,490.0 C472.2,497.8 471.2,510.2 470.5,520.0 C469.8,529.8 468.5,545.2 467.5,555.0 C466.5,564.8 465.5,577.5 464.0,585.5 C462.5,593.5 460.5,601.9 457.5,608.0 C454.5,614.1 448.7,622.1 444.0,626.0 C439.3,629.9 434.1,632.3 426.0,634.0 C417.9,635.7 400.5,637.2 390.0,637.5 C379.5,637.8 364.4,637.0 356.0,636.0 C347.6,635.0 339.4,633.0 333.8,630.5 C328.1,628.0 321.6,623.4 318.0,619.0 C314.4,614.6 310.9,608.4 309.5,601.0 C308.1,593.6 308.4,579.1 308.5,570.0 C308.6,560.9 309.1,549.0 310.0,540.0 C310.9,531.0 313.0,518.2 314.5,510.0 C316.0,501.8 318.4,491.6 320.0,485.0 C321.6,478.4 323.4,470.8 325.0,466.0 C326.6,461.2 328.6,456.3 331.0,453.0 C333.4,449.7 337.2,445.9 341.0,444.0 C344.8,442.1 348.6,440.8 356.0,440.0 C363.4,439.2 377.5,439.1 390.0,439.0 Z" fill="#0b0b0b"/>
<clipPath id="cBez"><path d="M390.0,439.0 C402.5,438.9 429.8,438.9 439.5,439.6 C449.2,440.3 450.9,441.5 455.0,443.5 C459.1,445.5 463.9,449.3 466.5,453.0 C469.1,456.7 471.6,462.4 472.5,468.0 C473.4,473.6 472.8,482.2 472.5,490.0 C472.2,497.8 471.2,510.2 470.5,520.0 C469.8,529.8 468.5,545.2 467.5,555.0 C466.5,564.8 465.5,577.5 464.0,585.5 C462.5,593.5 460.5,601.9 457.5,608.0 C454.5,614.1 448.7,622.1 444.0,626.0 C439.3,629.9 434.1,632.3 426.0,634.0 C417.9,635.7 400.5,637.2 390.0,637.5 C379.5,637.8 364.4,637.0 356.0,636.0 C347.6,635.0 339.4,633.0 333.8,630.5 C328.1,628.0 321.6,623.4 318.0,619.0 C314.4,614.6 310.9,608.4 309.5,601.0 C308.1,593.6 308.4,579.1 308.5,570.0 C308.6,560.9 309.1,549.0 310.0,540.0 C310.9,531.0 313.0,518.2 314.5,510.0 C316.0,501.8 318.4,491.6 320.0,485.0 C321.6,478.4 323.4,470.8 325.0,466.0 C326.6,461.2 328.6,456.3 331.0,453.0 C333.4,449.7 337.2,445.9 341.0,444.0 C344.8,442.1 348.6,440.8 356.0,440.0 C363.4,439.2 377.5,439.1 390.0,439.0 Z"/></clipPath>
<path clip-path="url(#cBez)" d="M300,430 L420,430 L356,640 L300,640 Z" fill="#1c1c1c" opacity="0.55"/>
<path d="M329,487 L464,489.5 L462,500 L451,595.6 L315.75,588.9 L324.75,500 Z" fill="#474747"/>
<clipPath id="cScr"><path d="M329,487 L464,489.5 L462,500 L451,595.6 L315.75,588.9 L324.75,500 Z"/></clipPath>
<path clip-path="url(#cScr)" d="M300,480 L402,480 L356.25,596 L300,596 Z" fill="url(#gRefl)"/>
<circle cx="364.1" cy="463.2" r="2.3" fill="#7c7c7c"/><circle cx="364.1" cy="463.2" r="1.1" fill="#a0a0a0"/>
<circle cx="378.8" cy="463.2" r="2.3" fill="#7c7c7c"/><circle cx="378.8" cy="463.2" r="1.1" fill="#a0a0a0"/>
<circle cx="392.9" cy="463.2" r="2.3" fill="#7c7c7c"/><circle cx="392.9" cy="463.2" r="1.1" fill="#a0a0a0"/>
<circle cx="408.0" cy="463.2" r="2.3" fill="#7c7c7c"/><circle cx="408.0" cy="463.2" r="1.1" fill="#a0a0a0"/>
<circle cx="422.6" cy="463.2" r="2.3" fill="#7c7c7c"/><circle cx="422.6" cy="463.2" r="1.1" fill="#a0a0a0"/>
<circle cx="437.2" cy="463.2" r="2.3" fill="#7c7c7c"/><circle cx="437.2" cy="463.2" r="1.1" fill="#a0a0a0"/>
<rect x="356.5" y="474.5" width="10" height="5" rx="1.2" fill="none" stroke="#e6e6e6" stroke-width="1.1"/><rect x="358.3" y="476.2" width="3" height="1.8" fill="#e6e6e6"/>
<text x="351.3" y="620" textLength="68" lengthAdjust="spacingAndGlyphs" font-family="Liberation Serif" font-weight="bold" font-size="11" fill="#e9e9e9" transform="rotate(2.2 351 620)">Baby Monitor</text>
<path d="M341,609 C336,609 335,617 340,617" fill="none" stroke="#e9e9e9" stroke-width="1.5"/>
<path d="M345,617 C341,612 345,607 351,607 C354,609 350,617 345,617 Z" fill="none" stroke="#e9e9e9" stroke-width="1.8"/>
<path d="M308.0,660.0 C310.8,656.4 315.8,656.1 320.0,655.5 C324.2,654.9 330.2,655.4 333.0,656.5 C335.8,657.6 337.3,659.2 337.0,662.0 C336.7,664.8 332.6,669.0 331.0,673.0 C329.4,677.0 328.7,682.7 327.5,686.0 C326.3,689.3 325.9,691.4 324.0,693.0 C322.1,694.6 318.8,696.0 316.0,695.5 C313.2,695.0 309.2,693.1 307.0,690.0 C304.8,686.9 302.8,682.0 303.0,677.0 C303.2,672.0 305.2,663.6 308.0,660.0 Z" fill="#8f8f8f" stroke="#c4c4c4" stroke-width="1"/>
<path d="M401.0,661.5 C403.0,659.8 406.5,658.9 410.0,659.5 C413.5,660.1 418.8,661.6 422.0,665.0 C425.2,668.4 428.5,675.0 429.0,680.0 C429.5,685.0 428.2,691.4 425.0,695.0 C421.8,698.6 414.0,700.8 410.0,701.5 C406.0,702.2 402.8,701.8 401.0,699.5 C399.2,697.2 399.5,692.9 399.0,688.0 C398.5,683.1 397.7,674.4 398.0,670.0 C398.3,665.6 399.0,663.2 401.0,661.5 Z" fill="#8f8f8f" stroke="#c4c4c4" stroke-width="1"/>
<ellipse cx="361.5" cy="688.7" rx="32.5" ry="33.3" fill="#d6d6d6"/>
<ellipse cx="361.5" cy="688.7" rx="31" ry="31.8" fill="#9e9e9e" stroke="#7c7c7c" stroke-width="1"/>
<circle cx="361" cy="687.5" r="13.3" fill="#979797" stroke="#141414" stroke-width="2.2"/>
<text x="360.5" y="686" font-family="Liberation Sans" font-weight="bold" font-size="6.5" fill="#d9d9d9" text-anchor="middle">OK</text>
<path d="M356,689 L366,689 M356.5,691.5 L358.5,691.5 M360,691.5 L362,691.5 M363.5,691.5 L365.5,691.5 M356,694 L366,694" fill="none" stroke="#d9d9d9" stroke-width="0.9"/>
<path d="M336.5,690 L343,690" stroke="#d9d9d9" stroke-width="1.6"/>
<path d="M379.5,691 L386.5,691 M383,687.5 L383,694.5" stroke="#d9d9d9" stroke-width="1.8"/>
<path d="M355.5,664 C353,664 353,670 356.5,670 C359.5,670 359.5,664 357.5,664 M356.5,662.5 L356.5,666" fill="none" stroke="#d9d9d9" stroke-width="1.1"/>
<path d="M362,667 L362,670 L368,670 L368,667 L365,663.5 Z" fill="none" stroke="#d9d9d9" stroke-width="1.1"/>
<path d="M359,708 C359,704.5 364,704.5 364,708 C364,709.5 363,710 363,711 L360,711 C360,710 359,709.5 359,708 Z M360,712.5 L363,712.5" fill="none" stroke="#d9d9d9" stroke-width="1"/>
<circle cx="410" cy="677.5" r="3.2" fill="none" stroke="#d9d9d9" stroke-width="1.3"/><path d="M411.5,680.5 L414,685" stroke="#d9d9d9" stroke-width="1.3"/>
<rect x="314" y="666" width="4.5" height="8" rx="2.2" fill="none" stroke="#d9d9d9" stroke-width="1.1"/><path d="M312.5,672 C312.5,677.5 320,677.5 320,672 M316.2,676.5 L316.2,679.5 M313,680 L319.5,680" fill="none" stroke="#d9d9d9" stroke-width="1.1"/>
<circle cx="357" cy="745.5" r="1.6" fill="#2a2a2a"/><circle cx="364.5" cy="746.2" r="1" fill="#c4c4c4"/>
<text x="332.5" y="20.5" textLength="83.0" lengthAdjust="spacingAndGlyphs" class="lb">Night light</text>
<text x="101.0" y="61.4" textLength="34.6" lengthAdjust="spacingAndGlyphs" class="lb">Lens</text>
<text x="58.4" y="176.0" textLength="56.6" lengthAdjust="spacingAndGlyphs" class="lb">IR LEDs</text>
<text x="108.4" y="292.6" textLength="29.6" lengthAdjust="spacingAndGlyphs" class="lb">MIC</text>
<text x="331.0" y="311.5" textLength="99.0" lengthAdjust="spacingAndGlyphs" class="lb">Temperature</text>
<text x="331.0" y="332.9" textLength="72.0" lengthAdjust="spacingAndGlyphs" class="lb">detection</text>
<text x="675.6" y="82.0" textLength="60.4" lengthAdjust="spacingAndGlyphs" class="lb">Speaker</text>
<text x="373.0" y="220.0" textLength="82.6" lengthAdjust="spacingAndGlyphs" class="lb">Night light</text>
<text x="373.0" y="241.0" textLength="66.0" lengthAdjust="spacingAndGlyphs" class="lb">ON/OFF</text>
<text x="661.6" y="260.6" textLength="26.4" lengthAdjust="spacingAndGlyphs" class="lb">Pair</text>
<text x="656.0" y="302.0" textLength="49.6" lengthAdjust="spacingAndGlyphs" class="lb">DC 5V</text>
<text x="166.6" y="427.0" textLength="123.9" lengthAdjust="spacingAndGlyphs" class="lb">Sound indicator</text>
<text x="535.4" y="453.0" textLength="113.1" lengthAdjust="spacingAndGlyphs" class="lb">2.4” lcd Screen</text>
<text x="138.8" y="606.0" textLength="117.2" lengthAdjust="spacingAndGlyphs" class="lb">ON/OFF Menu</text>
<text x="167.5" y="645.0" textLength="87.5" lengthAdjust="spacingAndGlyphs" class="lb">Talk button</text>
<text x="500.8" y="639.0" textLength="45.0" lengthAdjust="spacingAndGlyphs" class="lb">Zoom</text>
<text x="139.4" y="714.4" textLength="118.6" lengthAdjust="spacingAndGlyphs" class="lb">Confirm button</text>
<text x="133.0" y="731.0" textLength="124.5" lengthAdjust="spacingAndGlyphs" class="lb">Screen ON/OFF</text>
<text x="224.7" y="777.0" textLength="29.7" lengthAdjust="spacingAndGlyphs" class="lb">MIC</text>
<polyline points="330.0,14.5 289.0,14.5 269.5,34.5" class="ln"/>
<polyline points="140.0,55.6 165.6,55.6 206.0,94.0" class="ln"/>
<polyline points="118.0,172.0 139.0,172.0 178.0,132.5" class="ln"/>
<polyline points="142.4,288.0 167.0,288.0 216.0,240.0" class="ln"/>
<polyline points="328.6,317.0 323.0,317.0 300.5,355.4" class="ln"/>
<polyline points="672.0,77.4 651.0,77.4 619.0,108.0" class="ln"/>
<polyline points="461.0,215.0 484.0,215.0 512.0,239.0" class="ln"/>
<polyline points="658.0,256.6 640.0,256.6 622.0,239.0" class="ln"/>
<polyline points="653.0,297.4 632.0,297.4 577.0,241.0" class="ln"/>
<polyline points="295.0,421.6 332.5,421.6 364.0,461.5" class="ln"/>
<polyline points="530.0,447.0 504.5,447.0 452.0,499.5" class="ln"/>
<polyline points="261.0,601.0 287.0,601.0 364.0,656.6" class="ln"/>
<polyline points="259.0,640.0 281.0,640.0 315.0,667.5" class="ln"/>
<polyline points="496.0,632.5 450.0,632.5 415.0,667.0" class="ln"/>
<polyline points="260.0,717.5 313.8,717.5 351.0,694.0" class="ln"/>
<polyline points="259.0,772.0 293.4,772.0 352.8,745.6" class="ln"/>
</svg>
</body></html>
